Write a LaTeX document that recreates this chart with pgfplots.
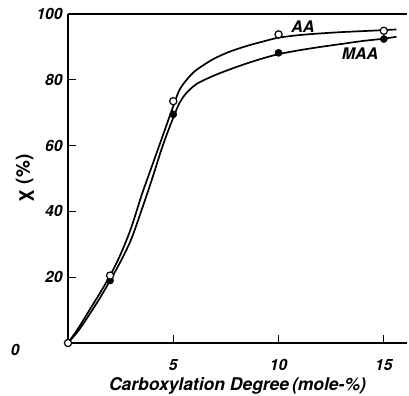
\documentclass[border=0pt]{standalone}
\usepackage{fontspec}
\setmainfont{TeX Gyre Heros}
\usepackage{pgfplots}
\pgfplotsset{compat=1.18}
\begin{document}
\begin{tikzpicture}
\useasboundingbox (-68bp,-53bp) rectangle (341bp,343bp);
\begin{axis}[
  scale only axis,
  width=339bp, height=329bp,
  xmin=0, xmax=16.1, ymin=0, ymax=100,
  axis x line*=box, axis y line*=left,
  xtick={5,10,15}, ytick={20,40,60,80,100},
  xtick pos=bottom, ytick pos=left,
  tick align=inside,
  major tick length=8bp,
  every tick/.style={black, line width=1bp},
  axis line style={black, line width=1.5bp},
  /pgf/number format/assume math mode=true,
  ticklabel style={font=\fontsize{15.5bp}{17bp}\selectfont\bfseries\itshape},
  yticklabel style={xshift=-2bp},
  xticklabel style={yshift=-13bp},
  xlabel={Carboxylation Degree\,(mole-\%)},
  ylabel={χ (\%)},
  xlabel style={at={(axis description cs:0.5,-0.13)}, anchor=center, font=\fontsize{17.5bp}{19bp}\selectfont\bfseries\itshape},
  ylabel style={at={(axis description cs:-0.127,0.5)}, anchor=center, font=\fontsize{19bp}{21bp}\selectfont\bfseries},
  clip=false,
]
% AA fitted curve
\addplot[black, line width=1.7bp, smooth, tension=0.5] coordinates {
(0,0) (0.5,4.6) (1,9.8) (1.5,15) (2,20.5) (2.5,27) (3,35) (3.5,45) (4,54) (4.5,63) (5,72) (5.3,77) (5.7,80.5) (6.1,83) (6.9,86.3) (7.7,88.6) (8.5,90.3) (9.3,91.7) (10,92.8) (11,93.6) (12,94.1) (13,94.5) (14,94.8) (15,95.1) (15.6,95.3)
};
% MAA fitted curve
\addplot[black, line width=1.7bp, smooth, tension=0.5] coordinates {
(0,0) (0.5,3.8) (1,8.5) (1.5,13.5) (2,19) (2.5,24.8) (3,31.5) (3.5,40.5) (4,50) (4.5,60) (5,68.5) (5.3,73) (5.6,75.8) (6.1,78.7) (6.9,81.2) (7.7,83.2) (8.5,85) (9.3,86.6) (10,87.8) (11,89) (12,90) (13,90.9) (14,91.8) (15,92.5) (15.6,93.1)
};
% MAA points
\addplot[only marks, mark=*, mark size=3.6bp, mark options={fill=black, draw=black}] coordinates {
(2,19) (5,69.5) (10,88.2) (15,92.4)
};
% AA points
\addplot[only marks, mark=*, mark size=3.6bp, mark options={fill=white, draw=black, line width=1.2bp}] coordinates {
(0,0) (2,20.5) (5,73.5) (10,93.8) (15,94.9)
};
\node[font=\fontsize{16bp}{18bp}\selectfont\bfseries\itshape] at (axis cs:11.16,96) {AA};
\node[font=\fontsize{16bp}{18bp}\selectfont\bfseries\itshape] at (axis cs:13.87,87.8) {MAA};
\node[font=\fontsize{15.5bp}{17bp}\selectfont\bfseries\itshape] at (axis description cs:-0.156,-0.021) {0};
\end{axis}
\end{tikzpicture}
\end{document}
